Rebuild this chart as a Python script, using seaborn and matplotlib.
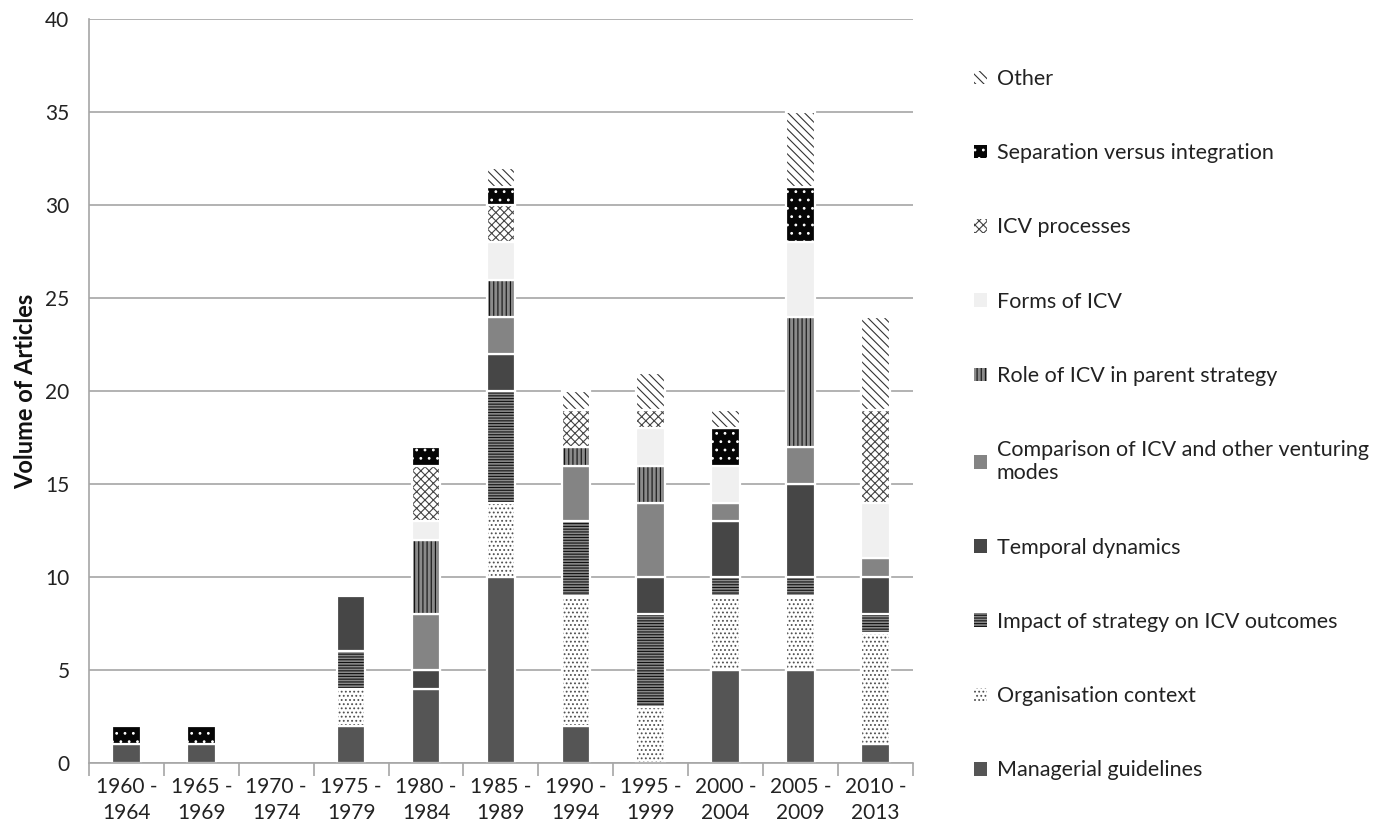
import numpy as np
import matplotlib
matplotlib.use('Agg')
import matplotlib.pyplot as plt
import matplotlib.patches as mpatches
import seaborn as sns

periods = ['1960 -\n1964', '1965 -\n1969', '1970 -\n1974', '1975 -\n1979', '1980 -\n1984',
           '1985 -\n1989', '1990 -\n1994', '1995 -\n1999', '2000 -\n2004', '2005 -\n2009',
           '2010 -\n2013']

# stacked from bottom to top
managerial = [1, 1, 0, 2, 4, 10, 2, 0, 5, 5, 1]
organisation = [0, 0, 0, 2, 0, 4, 7, 3, 4, 4, 6]
impact = [0, 0, 0, 2, 0, 6, 4, 5, 1, 1, 1]
temporal = [0, 0, 0, 3, 1, 2, 0, 2, 3, 5, 2]
comparison = [0, 0, 0, 0, 3, 2, 3, 4, 1, 2, 1]
role = [0, 0, 0, 0, 4, 2, 1, 2, 0, 7, 0]
forms = [0, 0, 0, 0, 1, 2, 0, 2, 2, 4, 3]
icv_processes = [0, 0, 0, 0, 3, 2, 2, 1, 0, 0, 5]
separation = [1, 1, 0, 0, 1, 1, 0, 0, 2, 3, 0]
other = [0, 0, 0, 0, 0, 1, 1, 2, 1, 4, 5]

series = [
    ('Managerial guidelines', managerial, '#555555', None, '#555555'),
    ('Organisation context', organisation, '#ffffff', '....', '#505050'),
    ('Impact of strategy on ICV outcomes', impact, '#8a8a8a', '------', '#111111'),
    ('Temporal dynamics', temporal, '#464646', None, '#464646'),
    ('Comparison of ICV and other venturing\nmodes', comparison, '#848484', None, '#848484'),
    ('Role of ICV in parent strategy', role, '#8a8a8a', '||||', '#111111'),
    ('Forms of ICV', forms, '#f0f0f0', None, '#f0f0f0'),
    ('ICV processes', icv_processes, '#ffffff', 'xxxx', '#444444'),
    ('Separation versus integration', separation, '#050505', '..', '#ffffff'),
    ('Other', other, '#ffffff', '\\\\\\\\', '#333333'),
]

sns.set_theme(style='white')
plt.rcParams['font.family'] = ['Lato', 'DejaVu Sans']
plt.rcParams['hatch.linewidth'] = 0.8

fig = plt.figure(figsize=(13.94, 8.36), dpi=100)
ax = fig.add_axes([0.0638, 0.0873, 0.591, 0.8897])

x = np.arange(len(periods))
bottom = np.zeros(len(periods))
handles = []
for name, vals, fc, hatch, ec in series:
    vals = np.array(vals, dtype=float)
    sns.barplot(x=periods, y=vals, bottom=bottom, color=fc, saturation=1,
                hatch=hatch, edgecolor=ec, linewidth=0, width=0.38,
                errorbar=None, ax=ax)
    mask = vals > 0
    ax.bar(x[mask], vals[mask], bottom=bottom[mask], width=0.38, fill=False,
           edgecolor='white', linewidth=1.6)
    bottom += vals
    handles.append(mpatches.Patch(facecolor=fc, hatch=hatch, edgecolor=ec,
                                  linewidth=0, label=name))

ax.set_xlim(-0.5, len(periods) - 0.5)
ax.set_ylim(0, 40)
ax.set_yticks(range(0, 41, 5))
ax.yaxis.grid(True, color='#a6a6a6', linewidth=1.2)
ax.set_axisbelow(True)
ax.set_xticks(x)
ax.set_xticklabels(periods, linespacing=1.35)
ax.set_xticks(np.arange(-0.5, len(periods)), minor=True)
ax.tick_params(axis='x', which='major', length=0, pad=10, labelsize=15, colors='#222222')
ax.tick_params(axis='x', which='minor', length=9, width=1.2, color='#a6a6a6', bottom=True)
ax.tick_params(axis='y', length=0, pad=14, labelsize=15, colors='#222222')
for s in ['top', 'right']:
    ax.spines[s].set_visible(False)
for s in ['left', 'bottom']:
    ax.spines[s].set_color('#a6a6a6')
    ax.spines[s].set_linewidth(1.2)
ax.set_xlabel('')
ax.set_ylabel('Volume of Articles', fontsize=17, fontweight='bold', color='#111111', labelpad=6)

leg = fig.legend(handles=handles[::-1], loc='upper left', bbox_to_anchor=(0.6912, 0.9304),
                 frameon=False, fontsize=15.5, handlelength=0.6, handleheight=0.6,
                 handletextpad=0.45, labelspacing=2.52, borderpad=0)
for t in leg.get_texts():
    t.set_color('#222222')

fig.savefig('out.png', dpi=100)
